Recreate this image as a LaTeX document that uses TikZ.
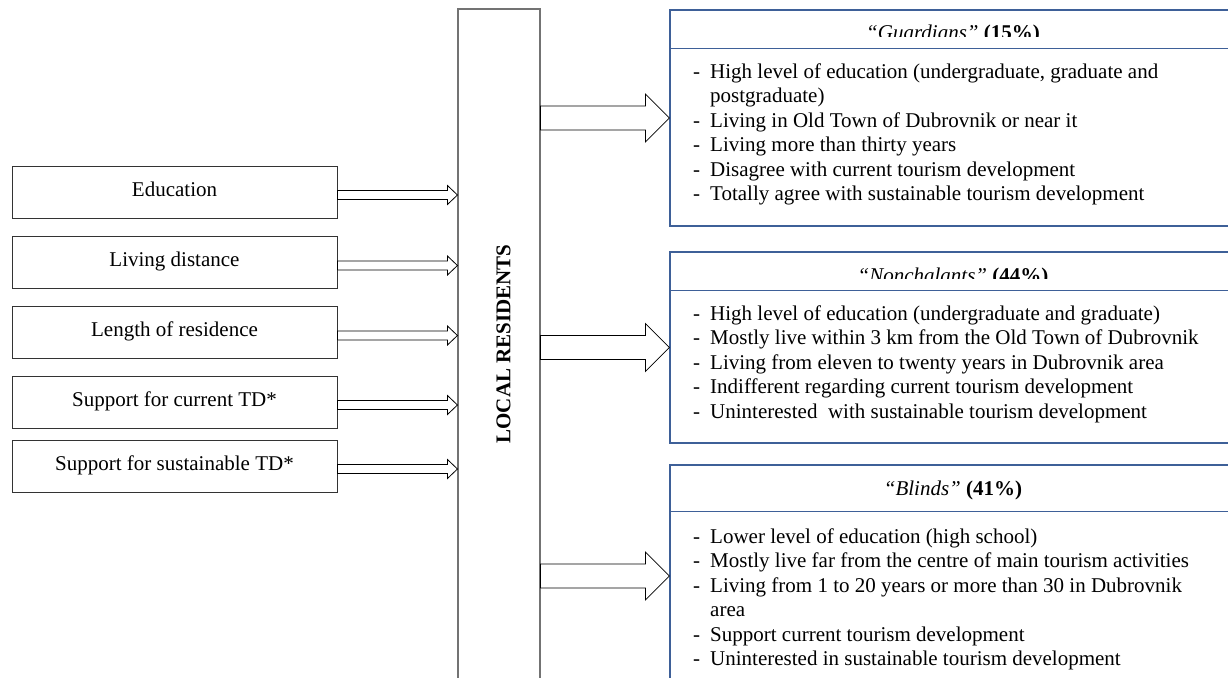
\documentclass[tikz,border=0pt]{standalone}
\usepackage{fontspec}
\setmainfont{Liberation Serif}
\usetikzlibrary{calc}
\definecolor{boxblue}{RGB}{62,96,152}
\definecolor{colgray}{RGB}{115,115,115}
\newcommand{\itm}[1]{\par\hangindent=17pt\hangafter=1\noindent\makebox[17pt][l]{-}#1}
\tikzset{
  x=1pt, y=-1pt,
  every node/.style={font=\fontsize{21}{24.5}\selectfont, inner sep=0pt},
  factorbox/.style={draw=black!80, line width=0.9pt, minimum width=325pt, minimum height=52pt, text height=13pt, text depth=5pt},
  colbox/.style={draw=colgray, line width=1.1pt, minimum width=82pt, minimum height=700pt},
  grpbox/.style={draw=boxblue, line width=1.2pt, minimum width=580pt},
  sepline/.style={draw=boxblue, line width=1.2pt},
  blk/.style n args={3}{to path={let \p1=(\tikztostart), \p2=(\tikztotarget) in
     (\x1,\y1-#1) -- (\x2-#2,\y1-#1) -- (\x2-#2,\y1-#3) -- (\x2,\y1) -- (\x2-#2,\y1+#3) -- (\x2-#2,\y1+#1) -- (\x1,\y1+#1) -- cycle}},
  smallarrow/.style={draw=black, fill=white, line width=0.8pt, line join=miter, blk={4.5pt}{10pt}{9.5pt}},
  bigarrow/.style={draw=black, fill=white, line width=0.8pt, line join=miter, blk={12pt}{24pt}{24pt}},
  headtext/.style={anchor=base},
  bodytext/.style={anchor=base west}
}
\begin{document}
\begin{tikzpicture}
\useasboundingbox (0,0) rectangle (1228,677);
\clip (0,0) rectangle (1228,677);

% central column
\node[colbox] (col) at (499,359) {};
\node[font=\bfseries\fontsize{21}{24.5}\selectfont, rotate=90] (lr) at (503.5,344) {LOCAL RESIDENTS};

% factor boxes
\node[factorbox] (edu) at (174.5,192) {Education};
\node[factorbox] (liv) at (174.5,262.5) {Living distance};
\node[factorbox] (len) at (174.5,332.5) {Length of residence};
\node[factorbox] (cur) at (174.5,402) {Support for current TD*};
\node[factorbox] (sus) at (174.5,466) {Support for sustainable TD*};

\foreach \b in {edu,liv,len,cur,sus}{
  \draw[smallarrow] ([yshift=-3pt]\b.east) to ([yshift=-3pt]\b.east -| col.west);
}

% group boxes
\node[grpbox, minimum height=216pt] (g) at (960,118) {};
\node[grpbox, minimum height=191pt] (n) at (960,347.5) {};
\node[grpbox, minimum height=222pt] (b) at (960,576) {};

\draw[sepline] ([yshift=-39pt]g.north west) -- ([yshift=-39pt]g.north east);
\draw[sepline] ([yshift=-39pt]n.north west) -- ([yshift=-39pt]n.north east);
\draw[sepline] ([yshift=-47pt]b.north west) -- ([yshift=-47pt]b.north east);

% big arrows
\draw[bigarrow] (g.west -| col.east) to (g.west);
\draw[bigarrow] (n.west -| col.east) to (n.west);
\draw[bigarrow] (b.west -| col.east) to (b.west);

% headers
\begin{scope}
\clip (g.north west) rectangle ([yshift=-27pt]g.north east);
\node[headtext] (gh) at (953,40) {\textit{“Guardians”} \textbf{(15\%)}};
\end{scope}
\begin{scope}
\clip (n.north west) rectangle ([yshift=-27pt]n.north east);
\node[headtext] (nh) at (953,282) {\textit{“Nonchalants”} \textbf{(44\%)}};
\end{scope}
\node[headtext] (bh) at (953,495) {\textit{“Blinds”} \textbf{(41\%)}};

% bodies
\node[bodytext] (gt) at (693,78) {\parbox[t]{560pt}{\raggedright
\itm{High level of education (undergraduate, graduate and\newline postgraduate)}
\itm{Living in Old Town of Dubrovnik or near it}
\itm{Living more than thirty years}
\itm{Disagree with current tourism development}
\itm{Totally agree with sustainable tourism development}}};

\node[bodytext] (nt) at (693,320) {\parbox[t]{560pt}{\raggedright
\itm{High level of education (undergraduate and graduate)}
\itm{Mostly live within 3 km from the Old Town of Dubrovnik}
\itm{Living from eleven to twenty years in Dubrovnik area}
\itm{Indifferent regarding current tourism development}
\itm{Uninterested\ \ with sustainable tourism development}}};

\node[bodytext] (bt) at (693,543) {\parbox[t]{560pt}{\raggedright
\itm{Lower level of education (high school)}
\itm{Mostly live far from the centre of main tourism activities}
\itm{Living from 1 to 20 years or more than 30 in Dubrovnik\newline area}
\itm{Support current tourism development}
\itm{Uninterested in sustainable tourism development}}};
\end{tikzpicture}
\end{document}
